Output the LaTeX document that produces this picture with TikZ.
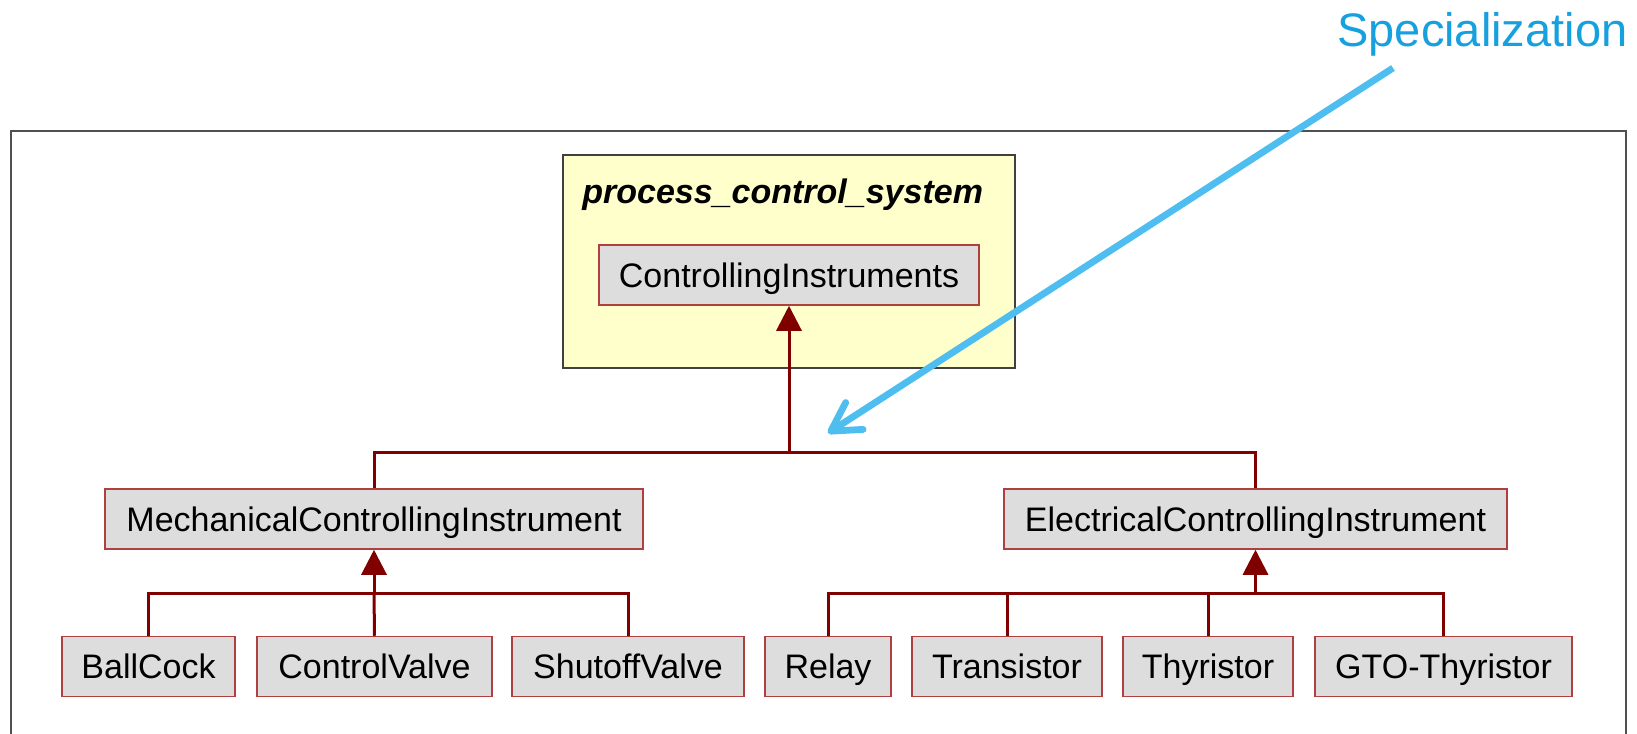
\documentclass[tikz,border=0pt]{standalone}
\usepackage{fontspec}
\setmainfont{Liberation Sans}
\usetikzlibrary{arrows.meta}
\definecolor{boxfill}{RGB}{221,221,221}
\definecolor{boxline}{RGB}{176,64,64}
\definecolor{connc}{RGB}{128,0,0}
\definecolor{pkgfill}{RGB}{255,255,204}
\definecolor{pkgline}{RGB}{64,64,64}
\definecolor{framec}{RGB}{80,80,80}
\definecolor{labelblue}{RGB}{22,160,222}
\definecolor{arrowblue}{RGB}{78,190,240}
\tikzset{
  cls/.style={draw=boxline, fill=boxfill, line width=0.75pt, inner sep=0pt,
    minimum height=30pt, text height=12pt, text depth=0pt,
    font=\fontsize{17}{20}\selectfont, text=black},
  conn/.style={draw=connc, line width=1.5pt},
  gen/.style={conn, -{Triangle[length=12.5pt,width=12.5pt]}},
  pkg/.style={draw=pkgline, fill=pkgfill, line width=0.75pt, inner sep=0pt},
  callout/.style={draw=arrowblue, line width=3.4pt,
    -{Straight Barb[length=14pt,width=16pt,line cap=round,line join=round]}}
}
\begin{document}
\begin{tikzpicture}[x=0.5pt,y=-0.5pt]
\useasboundingbox (0,0) rectangle (1637,733);
\clip (0,0) rectangle (1637,733);
% outer frame
\draw[draw=framec, line width=1pt] (11,131) rectangle (1626,780);
% package
\node[pkg, minimum width=226pt, minimum height=106.5pt] (pkgbox) at (789,261.5) {};
\node[anchor=base west, inner sep=0pt, font=\fontsize{17}{20}\selectfont\bfseries\itshape] (pkgtitle) at (582,203) {process\_control\_system};
% classes
\node[cls, minimum width=190pt] (ci) at (789,275) {ControllingInstruments};
\node[cls, minimum width=269pt] (mech) at (374,519) {MechanicalControllingInstrument};
\node[cls, minimum width=251.5pt] (elec) at (1255.5,519) {ElectricalControllingInstrument};
\node[cls, minimum width=86.5pt] (ballcock) at (148.5,666.5) {BallCock};
\node[cls, minimum width=117.5pt] (cvalve) at (374.5,666.5) {ControlValve};
\node[cls, minimum width=116pt] (svalve) at (628,666.5) {ShutoffValve};
\node[cls, minimum width=63pt] (relay) at (828,666.5) {Relay};
\node[cls, minimum width=95pt] (trans) at (1007,666.5) {Transistor};
\node[cls, minimum width=85pt] (thyr) at (1208,666.5) {Thyristor};
\node[cls, minimum width=128.5pt] (gto) at (1443.5,666.5) {GTO-Thyristor};
% junctions
\coordinate (jtop) at (789,452);
\coordinate (jmech) at (374,593);
\coordinate (jelec) at (1255.5,593);
% top level generalization
\draw[gen] (jtop) -- (ci.south);
\draw[conn] (mech.north) |- (jtop);
\draw[conn] (elec.north) |- (jtop);
% mechanical
\draw[gen] (jmech) -- (mech.south);
\draw[conn] (cvalve.north) -- (jmech);
\draw[conn] (ballcock.north) |- (jmech);
\draw[conn] (svalve.north) |- (jmech);
% electrical
\draw[gen] (jelec) -- (elec.south);
\draw[conn] (relay.north) |- (jelec);
\draw[conn] (trans.north) |- (jelec);
\draw[conn] (thyr.north) |- (jelec);
\draw[conn] (gto.north) |- (jelec);
% callout
\node[anchor=base west, inner sep=0pt, text=labelblue, font=\fontsize{23.5}{28}\selectfont] (spec) at (1337,47) {Specialization};
\coordinate (cstart) at (1393,68);
\coordinate (cend) at (828,433);
\draw[callout] (cstart) -- (cend);
\end{tikzpicture}
\end{document}
